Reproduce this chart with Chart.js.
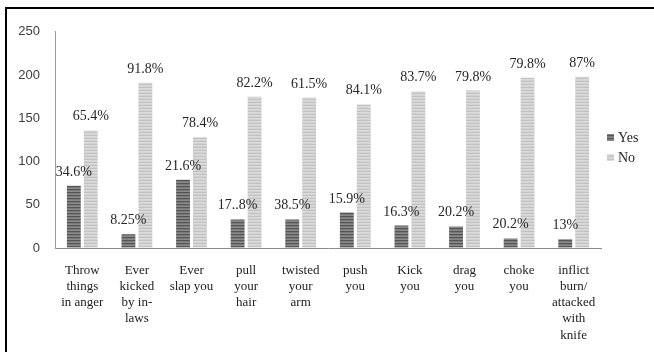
<!DOCTYPE html>
<html>
<head>
<meta charset="utf-8">
<script src="https://cdn.jsdelivr.net/npm/chart.js@4.4.1/dist/chart.umd.min.js"></script>
<style>
  body { margin: 0; background: #fff; }
  #frame {
    position: absolute; left: 5px; top: 7px;
    width: 647px; height: 343px;
    border-left: 2px solid #000; border-top: 2px solid #000;
  }
</style>
</head>
<body>
<div id="frame"><canvas id="barChart" width="647" height="343"></canvas></div>
<script>
// categories (already broken into lines like the original)
var categories = [
  ['Throw', 'things', 'in anger'],
  ['Ever', 'kicked', 'by in-', 'laws'],
  ['Ever', 'slap you'],
  ['pull', 'your', 'hair'],
  ['twisted', 'your', 'arm'],
  ['push', 'you'],
  ['Kick', 'you'],
  ['drag', 'you'],
  ['choke', 'you'],
  ['inflict', 'burn/', 'attacked', 'with', 'knife']
];
var yesValues = [72, 16, 79, 33, 33, 41, 26, 25, 11, 10];
var noValues = [136, 191, 128, 175, 174, 166, 181, 182, 197, 198];
var yesLabels = ['34.6%', '8.25%', '21.6%', '17..8%', '38.5%', '15.9%', '16.3%', '20.2%', '20.2%', '13%'];
var noLabels = ['65.4%', '91.8%', '78.4%', '82.2%', '61.5%', '84.1%', '83.7%', '79.8%', '79.8%', '87%'];
var yTicks = [0, 50, 100, 150, 200, 250];

var serif = '"Liberation Serif", "DejaVu Serif", serif';
var sans = '"Liberation Sans", Arial, sans-serif';

// striped fill like the office chart
function stripes(colors) {
  var c = document.createElement('canvas');
  c.width = 4;
  c.height = colors.length;
  var g = c.getContext('2d');
  colors.forEach(function (col, i) {
    g.fillStyle = col;
    g.fillRect(0, i, 4, 1);
  });
  return g.createPattern(c, 'repeat');
}
var darkFill = stripes(['#555555', '#7a7a7a', '#8a8a8a']);
var lightFill = stripes(['#c2c2c2', '#dadada', '#d4d4d4']);

var pctLabels = {
  id: 'pctLabels',
  afterDatasetsDraw: function (chart) {
    var ctx = chart.ctx;
    ctx.save();
    ctx.font = '14px ' + serif;
    ctx.fillStyle = '#262626';
    ctx.textAlign = 'center';
    ctx.textBaseline = 'alphabetic';
    chart.data.datasets.forEach(function (ds, i) {
      chart.getDatasetMeta(i).data.forEach(function (bar, j) {
        ctx.fillText(ds.pct[j], bar.x, bar.y - 10);
      });
    });
    ctx.restore();
  }
};

var sideLegend = {
  id: 'sideLegend',
  afterDraw: function (chart) {
    var ctx = chart.ctx;
    ctx.save();
    ctx.font = '14px ' + serif;
    ctx.textBaseline = 'middle';
    chart.data.datasets.forEach(function (ds, i) {
      var y = 129 + i * 20;
      ctx.fillStyle = ds.backgroundColor;
      ctx.fillRect(600, y - 4, 7, 7);
      ctx.fillStyle = '#262626';
      ctx.fillText(ds.label, 611, y);
    });
    ctx.restore();
  }
};

var barCtx = document.getElementById('barChart').getContext('2d');
var barChart = new Chart(barCtx, {
  type: 'bar',
  data: {
    labels: categories,
    datasets: [
      { label: 'Yes', data: yesValues, pct: yesLabels, backgroundColor: darkFill },
      { label: 'No', data: noValues, pct: noLabels, backgroundColor: lightFill }
    ]
  },
  options: {
    responsive: false,
    animation: false,
    categoryPercentage: 0.62,
    barPercentage: 0.82,
    layout: { padding: { top: 18, right: 53, left: 0, bottom: 0 } },
    plugins: {
      legend: { display: false },
      tooltip: { enabled: false }
    },
    scales: {
      x: {
        grid: { drawOnChartArea: false, drawTicks: false },
        border: { color: '#8c8c8c', width: 1 },
        ticks: {
          font: { family: serif, size: 13, lineHeight: 1.25 },
          color: '#222',
          padding: 14,
          maxRotation: 0,
          autoSkip: false
        },
        afterFit: function (scale) { scale.height = 104; }
      },
      y: {
        min: 0,
        max: 250,
        afterBuildTicks: function (scale) {
          scale.ticks = yTicks.map(function (v) { return { value: v }; });
        },
        grid: { drawOnChartArea: false, drawTicks: false },
        border: { color: '#999', width: 1 },
        ticks: {
          font: { family: sans, size: 13 },
          color: '#404040',
          padding: 15
        },
        afterFit: function (scale) { scale.width = 48; }
      }
    }
  },
  plugins: [pctLabels, sideLegend]
});
</script>
</body>
</html>
